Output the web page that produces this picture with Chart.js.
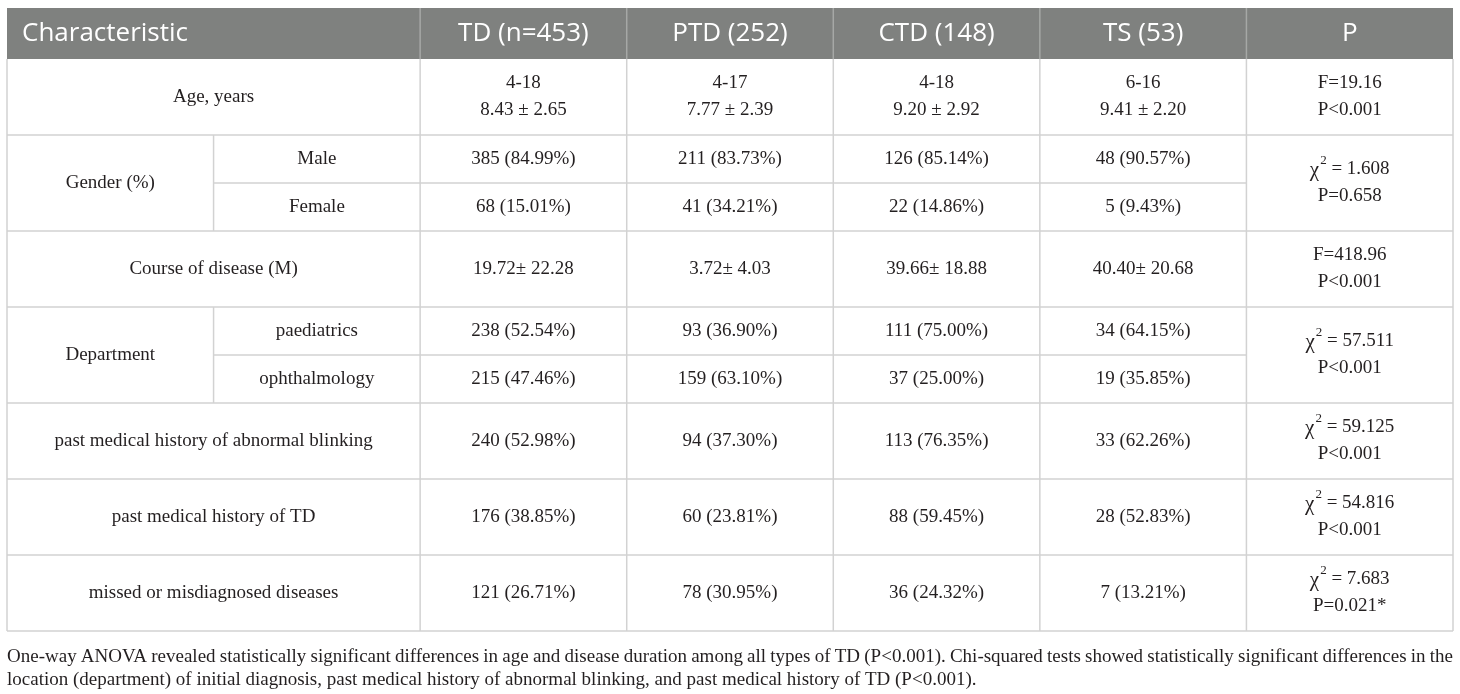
<!DOCTYPE html>
<html>
<head>
<meta charset="utf-8">
<script src="https://cdn.jsdelivr.net/npm/chart.js@4.4.1/dist/chart.umd.min.js"></script>
<style>
  html, body { margin: 0; padding: 0; background: #fff; }
  #wrap { width: 1460px; height: 694px; position: relative; }
</style>
</head>
<body>
<div id="wrap"><canvas id="table"></canvas></div>
<script>
// ---- table content ----
const headers = ['Characteristic', 'TD (n=453)', 'PTD (252)', 'CTD (148)', 'TS (53)', 'P'];

const characteristics = [
  'Age, years',
  'Gender (%)',
  'Course of disease (M)',
  'Department',
  'past medical history of abnormal blinking',
  'past medical history of TD',
  'missed or misdiagnosed diseases'
];

const subgroups = [[], ['Male', 'Female'], [], ['paediatrics', 'ophthalmology'], [], [], []];

// one entry per data row (sub rows flattened)
const tdValues = [['4-18', '8.43 ± 2.65'], '385 (84.99%)', '68 (15.01%)', '19.72± 22.28',
  '238 (52.54%)', '215 (47.46%)', '240 (52.98%)', '176 (38.85%)', '121 (26.71%)'];
const ptdValues = [['4-17', '7.77 ± 2.39'], '211 (83.73%)', '41 (34.21%)', '3.72± 4.03',
  '93 (36.90%)', '159 (63.10%)', '94 (37.30%)', '60 (23.81%)', '78 (30.95%)'];
const ctdValues = [['4-18', '9.20 ± 2.92'], '126 (85.14%)', '22 (14.86%)', '39.66± 18.88',
  '111 (75.00%)', '37 (25.00%)', '113 (76.35%)', '88 (59.45%)', '36 (24.32%)'];
const tsValues = [['6-16', '9.41 ± 2.20'], '48 (90.57%)', '5 (9.43%)', '40.40± 20.68',
  '34 (64.15%)', '19 (35.85%)', '33 (62.26%)', '28 (52.83%)', '7 (13.21%)'];

// one entry per characteristic
const pValues = [
  ['F=19.16', 'P<0.001'],
  ['χ² = 1.608', 'P=0.658'],
  ['F=418.96', 'P<0.001'],
  ['χ² = 57.511', 'P<0.001'],
  ['χ² = 59.125', 'P<0.001'],
  ['χ² = 54.816', 'P<0.001'],
  ['χ² = 7.683', 'P=0.021*']
];

const footnoteLines = [
  'One-way ANOVA revealed statistically significant differences in age and disease duration among all types of TD (P<0.001). Chi-squared tests showed statistically significant differences in the',
  'location (department) of initial diagnosis, past medical history of abnormal blinking, and past medical history of TD (P<0.001).'
];

// ---- layout ----
const HEADER_H = 51, SUB_H = 48, ROW_H = 76;
const SERIF = '"Liberation Serif", "DejaVu Serif", serif';
const SANS = '"Open Sans", "Noto Sans", sans-serif';

// build row geometry in y units (top to bottom)
const groupRows = [];
let yCursor = HEADER_H;
characteristics.forEach((label, gi) => {
  const subs = subgroups[gi];
  const start = yCursor;
  const rows = [];
  if (subs.length) {
    subs.forEach(s => { rows.push({ top: yCursor, bottom: yCursor + SUB_H, label: s }); yCursor += SUB_H; });
  } else {
    rows.push({ top: yCursor, bottom: yCursor + ROW_H }); yCursor += ROW_H;
  }
  groupRows.push({ label, top: start, bottom: yCursor, rows });
});
const TABLE_H = yCursor;

function drawRich(ctx, text, x, y, size) {
  // renders χ² with a raised small 2
  if (text.indexOf('χ²') !== 0) { ctx.textAlign = 'center'; ctx.fillText(text, x, y); return; }
  const rest = text.slice(2);
  const chiFont = Math.round(size * 1.12) + 'px ' + SERIF;
  const supFont = Math.round(size * 0.68) + 'px ' + SERIF;
  const mainFont = size + 'px ' + SERIF;
  ctx.font = chiFont;
  const wChi = ctx.measureText('χ').width + 1;
  ctx.font = mainFont;
  const wRest = ctx.measureText(rest).width;
  ctx.font = supFont;
  const wSup = ctx.measureText('2').width;
  const total = wChi + wSup + wRest;
  let cx = x - total / 2;
  ctx.textAlign = 'left';
  ctx.font = chiFont;
  ctx.fillText('χ', cx, y + 1);
  cx += wChi;
  ctx.font = supFont;
  ctx.fillText('2', cx, y - size * 0.45);
  cx += wSup;
  ctx.font = mainFont;
  ctx.fillText(rest, cx, y);
}

function drawCell(ctx, content, x, yMid, size) {
  const lines = Array.isArray(content) ? content : [content];
  const gap = 27;
  lines.forEach((line, i) => {
    const y = yMid + (i - (lines.length - 1) / 2) * gap;
    ctx.font = size + 'px ' + SERIF;
    drawRich(ctx, line, x, y, size);
  });
}

const tablePlugin = {
  id: 'tablePlugin',
  afterDraw(chart) {
    const ctx = chart.ctx;
    const xs = chart.scales.x, ys = chart.scales.y;
    const X = v => xs.getPixelForValue(v);
    const Y = v => ys.getPixelForValue(v);
    const colData = [tdValues, ptdValues, ctdValues, tsValues];
    const BODY = 19;

    ctx.save();
    // header band
    ctx.fillStyle = '#7f817f';
    ctx.fillRect(X(0), Y(0), X(7) - X(0), Y(HEADER_H) - Y(0));
    ctx.strokeStyle = '#a6a8a6';
    ctx.lineWidth = 1.5;
    for (let c = 2; c <= 6; c++) {
      ctx.beginPath(); ctx.moveTo(X(c), Y(0)); ctx.lineTo(X(c), Y(HEADER_H)); ctx.stroke();
    }
    ctx.fillStyle = '#ffffff';
    ctx.font = '26px ' + SANS;
    ctx.textBaseline = 'middle';
    ctx.textAlign = 'left';
    ctx.fillText(headers[0], X(0) + 15, Y(HEADER_H / 2));
    ctx.textAlign = 'center';
    for (let c = 1; c < headers.length; c++) {
      ctx.fillText(headers[c], (X(c + 1) + X(c + 2)) / 2, Y(HEADER_H / 2));
    }

    // grid lines
    ctx.strokeStyle = '#d2d2d2';
    ctx.lineWidth = 1.5;
    const line = (x1, y1, x2, y2) => { ctx.beginPath(); ctx.moveTo(x1, y1); ctx.lineTo(x2, y2); ctx.stroke(); };
    groupRows.forEach(g => {
      line(X(0), Y(g.bottom), X(7), Y(g.bottom));
      if (g.rows.length > 1) {
        line(X(1), Y(g.top), X(1), Y(g.bottom));
        g.rows.slice(0, -1).forEach(r => line(X(1), Y(r.bottom), X(6), Y(r.bottom)));
      }
    });
    for (let c = 2; c <= 6; c++) line(X(c), Y(HEADER_H), X(c), Y(TABLE_H));
    line(X(0), Y(HEADER_H), X(0), Y(TABLE_H));
    line(X(7), Y(HEADER_H), X(7), Y(TABLE_H));

    // body text
    ctx.fillStyle = '#231f20';
    ctx.textBaseline = 'middle';
    let dataRow = 0;
    groupRows.forEach((g, gi) => {
      const mid = Y((g.top + g.bottom) / 2);
      if (g.rows.length > 1) {
        drawCell(ctx, g.label, (X(0) + X(1)) / 2, mid, BODY);
      } else {
        drawCell(ctx, g.label, (X(0) + X(2)) / 2, mid, BODY);
      }
      g.rows.forEach(r => {
        const rMid = Y((r.top + r.bottom) / 2);
        if (r.label) drawCell(ctx, r.label, (X(1) + X(2)) / 2, rMid, BODY);
        colData.forEach((vals, ci) => {
          drawCell(ctx, vals[dataRow], (X(ci + 2) + X(ci + 3)) / 2, rMid, BODY);
        });
        dataRow++;
      });
      drawCell(ctx, pValues[gi], (X(6) + X(7)) / 2, mid, BODY);
    });

    // footnote, first line justified to table width
    ctx.font = BODY + 'px ' + SERIF;
    ctx.textAlign = 'left';
    ctx.textBaseline = 'alphabetic';
    const maxW = X(7) - X(0);
    footnoteLines.forEach((text, li) => {
      const yb = Y(TABLE_H) + 31 + li * 23;
      const ws = text.split(' ');
      if (li < footnoteLines.length - 1) {
        const wordsW = ws.reduce((s, w) => s + ctx.measureText(w).width, 0);
        const space = (maxW - wordsW) / (ws.length - 1);
        let cx = X(0);
        ws.forEach(w => { ctx.fillText(w, cx, yb); cx += ctx.measureText(w).width + space; });
      } else {
        ctx.fillText(text, X(0), yb);
      }
    });
    ctx.restore();
  }
};

new Chart(document.getElementById('table'), {
  type: 'scatter',
  data: { datasets: [{ data: [], pointRadius: 0 }] },
  options: {
    responsive: true,
    maintainAspectRatio: false,
    animation: false,
    layout: { padding: { left: 7, right: 7, top: 8, bottom: 694 - 8 - TABLE_H } },
    plugins: { legend: { display: false }, tooltip: { enabled: false } },
    scales: {
      x: { type: 'linear', min: 0, max: 7, display: false },
      y: { type: 'linear', min: 0, max: TABLE_H, reverse: true, display: false }
    }
  },
  plugins: [tablePlugin]
});
</script>
</body>
</html>
